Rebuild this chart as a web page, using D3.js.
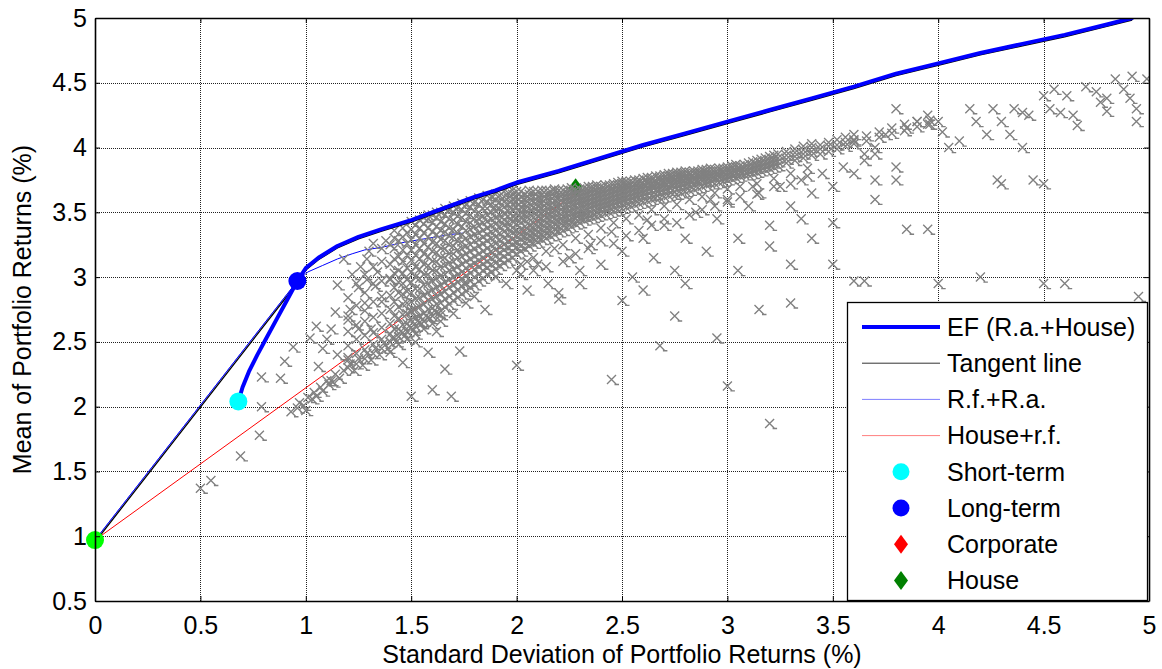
<!DOCTYPE html>
<html>
<head>
<meta charset="utf-8">
<script src="https://cdn.jsdelivr.net/npm/d3@7"></script>
<style>
  body { margin: 0; background: #fff; }
  text { font-family: "Liberation Sans", Arial, sans-serif; fill: #000; }
</style>
</head>
<body>
<svg id="chart" width="1162" height="669"></svg>
<script>
// ---- axis ticks ----
const xTicks = [0, 0.5, 1, 1.5, 2, 2.5, 3, 3.5, 4, 4.5, 5];
const yTicks = [0.5, 1, 1.5, 2, 2.5, 3, 3.5, 4, 4.5, 5];

// ---- efficient frontier (risky assets + house) ----
const efSigma = [0.68, 0.70, 0.73, 0.77, 0.81, 0.86, 0.91, 0.96, 1.00, 1.06, 1.15, 1.25, 1.36, 1.50, 1.60, 1.70, 1.80, 1.90, 2.00, 2.20, 2.40, 2.60, 2.80, 3.00, 3.20, 3.40, 3.60, 3.80, 4.00, 4.20, 4.40, 4.60, 4.80, 4.92];
const efMean  = [2.04, 2.15, 2.27, 2.40, 2.52, 2.67, 2.82, 2.97, 3.07, 3.15, 3.24, 3.31, 3.37, 3.44, 3.50, 3.56, 3.62, 3.67, 3.73, 3.82, 3.92, 4.02, 4.11, 4.20, 4.29, 4.38, 4.47, 4.57, 4.65, 4.73, 4.80, 4.87, 4.95, 5.00];

// ---- tangent line: risk-free rate to the tangency portfolio ----
const tangentSigma = [0.00, 0.96];
const tangentMean  = [0.97, 2.97];

// ---- risk-free + risky assets ----
const rfraSigma = [0.00, 0.96, 1.01, 1.08, 1.15, 1.22, 1.28, 1.36, 1.47, 1.58, 1.69, 1.75];
const rfraMean  = [0.97, 2.97, 3.04, 3.09, 3.14, 3.18, 3.21, 3.23, 3.27, 3.30, 3.33, 3.34];

// ---- house + risk-free ----
const houseRfSigma = [0.00, 2.28];
const houseRfMean  = [0.97, 3.65];

// ---- single assets ----
const riskFree  = [0.00, 0.97];
const shortTerm = [0.68, 2.04];
const longTerm  = [0.96, 2.97];
const corporate = [4.20, 2.30];
const house     = [2.28, 3.69];

// ---- simulated portfolios: dense columns "sigma:mean,mean,..." ----
const portfolioColumns = `
1.20:2.30,2.38,2.47,2.58,2.70,2.84
1.24:2.33,2.41,2.52,2.63,2.78,2.95
1.28:2.37,2.44,2.55,2.66,2.74,2.88,3.02
1.32:2.41,2.48,2.57,2.69,2.81,2.95,3.08
1.36:2.45,2.52,2.61,2.72,2.85,2.97,3.12,3.22
1.40:2.50,2.56,2.64,2.75,2.86,2.99,3.10,3.25
1.44:2.54,2.60,2.68,2.77,2.88,2.96,3.05,3.16,3.28
1.48:2.58,2.64,2.72,2.80,2.89,2.98,3.07,3.17,3.26,3.34
1.52:2.62,2.68,2.75,2.83,2.91,3.00,3.08,3.17,3.25,3.33,3.40
1.56:2.66,2.72,2.79,2.86,2.94,3.02,3.10,3.18,3.26,3.34,3.41,3.46
1.60:2.70,2.76,2.83,2.90,2.97,3.05,3.12,3.20,3.27,3.35,3.42,3.48
1.64:2.74,2.80,2.87,2.94,3.01,3.08,3.15,3.22,3.29,3.36,3.43,3.50
1.68:2.79,2.85,2.92,2.98,3.05,3.11,3.18,3.25,3.32,3.38,3.45,3.52
1.72:2.84,2.90,2.96,3.02,3.08,3.15,3.21,3.28,3.34,3.41,3.47,3.54
1.76:2.89,2.95,3.01,3.07,3.12,3.18,3.24,3.30,3.36,3.43,3.49,3.56
1.80:2.94,3.00,3.06,3.11,3.16,3.22,3.28,3.33,3.39,3.45,3.51,3.58
1.84:2.99,3.05,3.10,3.15,3.20,3.26,3.31,3.36,3.42,3.47,3.53,3.60
1.88:3.04,3.10,3.15,3.20,3.25,3.30,3.35,3.40,3.45,3.50,3.56,3.62
1.92:3.09,3.14,3.19,3.24,3.29,3.34,3.39,3.44,3.48,3.53,3.58,3.63
1.96:3.13,3.18,3.23,3.28,3.33,3.38,3.42,3.47,3.51,3.56,3.61,3.65
2.00:3.18,3.23,3.27,3.32,3.36,3.41,3.45,3.49,3.54,3.58,3.62,3.66
2.04:3.22,3.27,3.31,3.35,3.39,3.44,3.48,3.52,3.56,3.60,3.64
2.08:3.26,3.30,3.34,3.38,3.42,3.46,3.50,3.54,3.58,3.62,3.66
2.12:3.29,3.33,3.37,3.41,3.45,3.49,3.53,3.57,3.60,3.64,3.67
2.16:3.32,3.36,3.40,3.44,3.48,3.51,3.55,3.59,3.62,3.66
2.20:3.35,3.39,3.43,3.46,3.50,3.54,3.57,3.61,3.64,3.67
2.24:3.38,3.42,3.45,3.49,3.52,3.56,3.59,3.62,3.65,3.68
2.28:3.41,3.45,3.48,3.51,3.55,3.58,3.61,3.64,3.67
2.32:3.44,3.47,3.50,3.54,3.57,3.60,3.63,3.66,3.69
2.36:3.46,3.49,3.53,3.56,3.59,3.62,3.65,3.68,3.70
2.40:3.48,3.52,3.55,3.58,3.61,3.64,3.67,3.70
2.44:3.50,3.54,3.57,3.60,3.63,3.66,3.69,3.71
2.48:3.52,3.56,3.59,3.62,3.65,3.68,3.71,3.73
2.52:3.54,3.58,3.61,3.64,3.67,3.70,3.72,3.74
2.56:3.56,3.60,3.63,3.66,3.69,3.72,3.75
2.60:3.58,3.62,3.65,3.68,3.71,3.73,3.76
2.64:3.60,3.63,3.67,3.70,3.72,3.75,3.77
2.68:3.61,3.65,3.68,3.71,3.74,3.76,3.78
2.72:3.63,3.67,3.70,3.73,3.75,3.78,3.80
2.76:3.64,3.68,3.71,3.74,3.77,3.79,3.81
2.80:3.66,3.70,3.73,3.76,3.78,3.80,3.82
2.84:3.68,3.72,3.75,3.77,3.80,3.82
2.88:3.70,3.74,3.76,3.79,3.81,3.83
2.92:3.72,3.75,3.78,3.80,3.82,3.84
2.96:3.73,3.77,3.79,3.82,3.84
3.00:3.75,3.78,3.81,3.83,3.85
3.04:3.77,3.80,3.82,3.85,3.87
3.08:3.79,3.82,3.84,3.87
3.12:3.80,3.83,3.86,3.89
3.16:3.82,3.85,3.88,3.91
3.20:3.84,3.87,3.90,3.93
3.24:3.86,3.89,3.92,3.95
3.28:3.88,3.91,3.94,3.97
3.32:3.90,3.93,3.96,3.99
3.36:3.92,3.95,3.98,4.01
3.40:3.94,3.97,4.00,4.03
3.44:3.95,3.99,4.02
3.48:3.97,4.01,4.04
3.52:3.99,4.02,4.06
3.56:4.01,4.04,4.08
3.60:4.03,4.06,4.10
3.66:4.05,4.09
3.72:4.08,4.12
3.78:4.11,4.15
3.84:4.13,4.18
3.90:4.16,4.20
3.96:4.18,4.21
1.42:2.53,2.60,2.70,2.81,2.92,3.03,3.14,3.22,3.30
1.46:2.57,2.63,2.71,2.79,2.87,2.95,3.03,3.12,3.21,3.31,3.38
1.50:2.61,2.67,2.74,2.81,2.88,2.96,3.04,3.13,3.21,3.29,3.37,3.43
1.54:2.65,2.70,2.77,2.84,2.91,2.99,3.06,3.14,3.22,3.30,3.38,3.44
1.58:2.69,2.75,2.82,2.88,2.95,3.02,3.09,3.16,3.23,3.31,3.38,3.45,3.48
1.62:2.73,2.79,2.85,2.92,2.99,3.05,3.12,3.19,3.26,3.33,3.39,3.46,3.50
1.66:2.77,2.83,2.89,2.96,3.02,3.09,3.15,3.22,3.28,3.35,3.41,3.48,3.53
1.70:2.82,2.88,2.94,3.00,3.06,3.12,3.18,3.24,3.31,3.37,3.44,3.50,3.55
1.74:2.87,2.93,2.99,3.04,3.10,3.16,3.22,3.27,3.33,3.39,3.46,3.52,3.57
1.78:2.92,2.97,3.03,3.09,3.14,3.20,3.25,3.31,3.37,3.42,3.48,3.54,3.59
1.82:2.97,3.02,3.08,3.13,3.18,3.24,3.29,3.34,3.40,3.45,3.50,3.56,3.61
1.86:3.02,3.07,3.12,3.17,3.22,3.28,3.33,3.38,3.43,3.48,3.53,3.58,3.63
1.90:3.06,3.11,3.16,3.21,3.26,3.31,3.36,3.41,3.46,3.51,3.55,3.60,3.64
1.94:3.11,3.16,3.21,3.25,3.30,3.35,3.40,3.44,3.49,3.54,3.58,3.62,3.66
1.98:3.15,3.20,3.25,3.29,3.34,3.38,3.43,3.47,3.52,3.56,3.60,3.64,3.67
2.02:3.20,3.24,3.29,3.33,3.37,3.42,3.46,3.50,3.54,3.58,3.62,3.66
2.06:3.24,3.28,3.32,3.36,3.40,3.45,3.49,3.53,3.57,3.61,3.64,3.67
2.10:3.27,3.31,3.35,3.39,3.43,3.47,3.51,3.55,3.59,3.62,3.66
2.14:3.30,3.34,3.38,3.42,3.46,3.50,3.54,3.57,3.61,3.64,3.67
2.18:3.33,3.37,3.41,3.45,3.49,3.52,3.56,3.59,3.63,3.66,3.68
2.22:3.36,3.40,3.44,3.47,3.51,3.54,3.58,3.61,3.64,3.67
2.26:3.39,3.43,3.46,3.50,3.53,3.57,3.60,3.63,3.66,3.69
2.30:3.42,3.46,3.49,3.52,3.56,3.59,3.62,3.65,3.68
2.34:3.45,3.48,3.52,3.55,3.58,3.61,3.64,3.67,3.70
2.38:3.47,3.50,3.54,3.57,3.60,3.63,3.66,3.69,3.71
2.42:3.49,3.53,3.56,3.59,3.62,3.65,3.68,3.71
2.46:3.51,3.55,3.58,3.61,3.64,3.67,3.70,3.72
2.50:3.53,3.57,3.60,3.63,3.66,3.69,3.72,3.74
2.54:3.55,3.59,3.62,3.65,3.68,3.71,3.74
2.58:3.57,3.61,3.64,3.67,3.70,3.73,3.75
2.62:3.59,3.63,3.66,3.69,3.72,3.74,3.77
2.66:3.61,3.64,3.67,3.70,3.73,3.75,3.78
2.70:3.62,3.66,3.69,3.72,3.74,3.77,3.79
2.74:3.64,3.67,3.71,3.73,3.76,3.78,3.80
2.78:3.65,3.69,3.72,3.75,3.77,3.79,3.81
2.82:3.67,3.71,3.74,3.76,3.79,3.81
2.86:3.69,3.73,3.75,3.78,3.80,3.82
2.90:3.71,3.74,3.77,3.79,3.81,3.83
2.94:3.72,3.76,3.78,3.81,3.83
2.98:3.74,3.77,3.80,3.82,3.84
3.02:3.76,3.79,3.81,3.84,3.86
3.06:3.78,3.81,3.83,3.86
3.10:3.79,3.82,3.85,3.88
3.14:3.81,3.84,3.87,3.90
3.18:3.83,3.86,3.89,3.92
3.22:3.85,3.88,3.91,3.94
`;

// ---- simulated portfolios: scattered ones "sigma,mean" ----
const portfolioScattered = `
0.50,1.37 0.55,1.43 0.69,1.62 0.78,1.78 0.79,2.00 0.79,2.23 0.88,2.22 0.90,2.35 0.94,2.46
0.93,1.96 0.96,1.99 0.99,2.01 1.00,1.97 1.03,2.06 1.05,2.08 1.08,2.12 1.11,2.17 1.13,2.19
1.16,2.22 1.06,2.31 1.02,2.53 1.12,2.20 1.14,2.73 1.21,2.75 1.15,2.94 1.25,2.92 1.29,2.98
1.33,2.93 1.36,2.81 1.28,2.80 1.20,2.67 1.12,2.60 1.25,2.60 1.31,2.60 1.15,2.40 1.20,2.36
1.29,3.14 1.18,3.14 1.40,2.98 1.50,2.08 1.58,2.42 1.60,2.13 1.66,2.29 1.69,2.08 1.73,2.43
1.46,2.34 1.64,2.71 1.50,2.73 1.08,2.45 1.10,2.52 1.05,2.62 1.40,2.42 1.44,2.48 1.48,2.52
1.52,2.56 1.56,2.60 1.60,2.64 1.64,2.66 1.70,2.72 1.76,2.80 1.52,2.50 1.62,2.58
1.22,3.02 1.26,3.08 1.30,3.20 1.34,3.04 1.38,3.28 1.42,3.36 1.32,3.26 1.23,2.28 1.27,2.32
1.31,2.36 1.35,2.40 1.39,2.45 1.43,2.50 1.47,2.55 1.51,2.59 1.55,2.64 1.59,2.68 1.63,2.72
0.97,2.03 1.01,2.07 1.04,2.11 1.07,2.15 1.10,2.20 1.14,2.25 1.18,2.28 1.21,2.33 1.25,2.37
1.29,2.41 1.33,2.45 1.37,2.49 1.41,2.53 1.45,2.58 1.49,2.62 1.53,2.66 1.57,2.70 1.61,2.74
1.75,2.95 1.80,2.85 1.85,2.75 1.95,2.95 2.00,3.05 2.05,2.90 2.10,3.10 2.15,2.95 2.20,2.88
2.25,3.15 2.30,3.05 2.35,3.25 2.40,3.10 2.45,3.35 2.50,3.20 2.55,3.00 2.60,3.30 2.65,3.15
2.70,3.40 2.75,3.05 2.80,3.30 2.85,3.50 2.90,3.20 2.95,3.45 3.00,3.60 3.05,3.30 3.10,3.55
3.15,3.65 3.20,3.40 3.25,3.70 3.30,3.55 3.35,3.75 3.40,3.65 3.45,3.80 3.50,3.70 3.55,3.85
3.60,3.80 3.65,3.90 3.70,3.95 1.90,3.00 2.05,3.12 2.18,3.22 2.62,3.44 2.92,3.60 3.12,3.70
2.02,3.02 2.02,3.10 2.08,3.05 2.08,3.15 2.14,3.08 2.14,3.20 2.22,3.12 2.22,3.25 2.28,3.18
2.28,3.30 2.34,3.22 2.34,3.33 2.40,3.28 2.40,3.38 2.46,3.26 2.46,3.42 2.52,3.32 2.52,3.45
2.58,3.36 2.58,3.48 2.64,3.40 2.64,3.52 2.70,3.45 2.70,3.55 2.76,3.42 2.76,3.56 2.82,3.48
2.82,3.60 2.88,3.52 2.88,3.62 2.94,3.55 2.94,3.65 3.00,3.58 3.00,3.68 3.06,3.62 3.06,3.70
3.14,3.64 3.14,3.72 3.22,3.70 3.22,3.76 3.30,3.72 3.30,3.80 3.38,3.78 3.38,3.84
2.00,2.32 2.20,2.83 2.45,2.21 2.50,2.82 2.68,2.47 2.80,2.95 2.95,2.53 3.00,2.16 3.20,1.87
3.15,2.75 3.20,3.24 3.30,2.80 3.50,3.10 3.50,3.42 3.60,2.97 3.65,2.97 3.80,3.75 3.85,3.37
3.95,3.37 4.00,2.95 4.20,3.00 4.45,3.75 4.50,3.72 4.50,2.95 4.60,2.95 4.95,2.85 3.30,3.10
2.30,2.95 2.60,2.90 2.75,2.70 3.05,3.05 3.40,3.30 3.70,3.60 3.35,3.45 3.80,3.85
3.60,4.05 3.65,3.95 3.70,4.00 3.75,4.10 3.80,4.30 3.85,4.15 3.90,4.20 3.95,4.18 4.00,4.20
4.02,4.12 4.05,4.00 4.15,4.30 4.18,4.20 4.23,4.10 4.26,4.30 4.30,4.20 4.34,4.10 4.36,4.30
4.40,4.27 4.43,4.25 4.50,4.40 4.55,4.45 4.61,4.40 4.53,4.30 4.58,4.27 4.64,4.25 4.66,4.17
4.70,4.47 4.75,4.43 4.80,4.38 4.77,4.35 4.80,4.28 4.84,4.53 4.88,4.45 4.91,4.38 4.94,4.30
4.92,4.55 4.94,4.20 4.99,4.53 4.10,4.05 4.30,3.72 4.28,3.75 3.95,4.25 3.70,3.75 4.40,4.00
`;

// parse the two portfolio tables into [sigma, mean] pairs
const portfolios = [];
portfolioColumns.trim().split("\n").forEach(row => {
  const [s, ms] = row.split(":");
  ms.split(",").forEach(m => portfolios.push([+s, +m]));
});
portfolioScattered.trim().split(/\s+/).forEach(p => {
  const [s, m] = p.split(",");
  portfolios.push([+s, +m]);
});

// ---- layout ----
const plot = { left: 95, right: 1149, top: 18, bottom: 601 };
const FS = 25;

const svg = d3.select("#chart");
const x = d3.scaleLinear().domain([0, 5]).range([plot.left, plot.right]);
const y = d3.scaleLinear().domain([0.5, 5]).range([plot.bottom, plot.top]);

svg.append("defs").append("clipPath").attr("id", "plotClip")
  .append("rect")
  .attr("x", plot.left).attr("y", plot.top)
  .attr("width", plot.right - plot.left).attr("height", plot.bottom - plot.top);

// dotted grid
const grid = svg.append("g").attr("stroke", "#222").attr("stroke-width", 1)
  .attr("stroke-dasharray", "1,1").attr("shape-rendering", "crispEdges");
grid.selectAll(".gx").data(xTicks.slice(1, -1)).join("line")
  .attr("x1", d => Math.round(x(d)) + 0.5).attr("x2", d => Math.round(x(d)) + 0.5)
  .attr("y1", plot.top).attr("y2", plot.bottom);
grid.selectAll(".gy").data(yTicks.slice(1, -1)).join("line")
  .attr("y1", d => Math.round(y(d)) + 0.5).attr("y2", d => Math.round(y(d)) + 0.5)
  .attr("x1", plot.left).attr("x2", plot.right);

const line = (xs, ys) => d3.line()(xs.map((v, i) => [x(v), y(ys[i])]));
const layer = svg.append("g").attr("clip-path", "url(#plotClip)");

// thin lines sit underneath the portfolio cloud
layer.append("path").attr("d", line(houseRfSigma, houseRfMean))
  .attr("fill", "none").attr("stroke", "#ff0000").attr("stroke-width", 1);
layer.append("path").attr("d", line(rfraSigma, rfraMean))
  .attr("fill", "none").attr("stroke", "#0000ff").attr("stroke-width", 1);

// corporate & house assets (covered by the cloud and the legend)
const diamond = "M0,-9.5L7,0L0,9.5L-7,0Z";
layer.append("path").attr("d", diamond)
  .attr("transform", `translate(${x(corporate[0])},${y(corporate[1])})`).attr("fill", "#ff0000");
layer.append("path").attr("d", diamond)
  .attr("transform", `translate(${x(house[0])},${y(house[1])})`).attr("fill", "#008000");

// simulated portfolios
const xMark = "M-4.5,-4.5L4.5,4.5M4.5,-4.5L-4.5,4.5M3,5H7.5";
layer.append("g").attr("stroke", "#808080").attr("stroke-width", 1.35).attr("fill", "none")
  .selectAll("path").data(portfolios).join("path")
  .attr("d", xMark)
  .attr("transform", d => `translate(${x(d[0]).toFixed(1)},${y(d[1]).toFixed(1)})`);

// tangent line: to tangency, then along the frontier
const tIdx = efSigma.indexOf(tangentSigma[1]);
const tanS = tangentSigma.concat(efSigma.slice(tIdx + 1));
const tanM = tangentMean.concat(efMean.slice(tIdx + 1));
layer.append("path").attr("d", line(tanS, tanM))
  .attr("transform", "translate(0,2)")
  .attr("fill", "none").attr("stroke", "#000").attr("stroke-width", 1.3);
// straight part of the risk-free + risky line over it
layer.append("path").attr("d", line(rfraSigma.slice(0, 2), rfraMean.slice(0, 2)))
  .attr("fill", "none").attr("stroke", "#0000ff").attr("stroke-width", 0.8).attr("opacity", 0.7);

// efficient frontier
layer.append("path").attr("d", line(efSigma, efMean))
  .attr("fill", "none").attr("stroke", "#0000ff").attr("stroke-width", 4)
  .attr("stroke-linejoin", "round").attr("stroke-linecap", "round");

// circle markers
const dots = [[riskFree, "#00ff00"], [shortTerm, "#00ffff"], [longTerm, "#0000ff"]];
svg.append("g").selectAll("circle").data(dots).join("circle")
  .attr("cx", d => x(d[0][0])).attr("cy", d => y(d[0][1])).attr("r", 9)
  .attr("fill", d => d[1]);

// axes (ticks pointing inward on all four sides)
const fmt = d => String(d);
const axB = svg.append("g").attr("transform", `translate(0,${plot.bottom})`)
  .call(d3.axisBottom(x).tickValues(xTicks).tickSize(-5).tickSizeOuter(0).tickPadding(15).tickFormat(fmt));
const axL = svg.append("g").attr("transform", `translate(${plot.left},0)`)
  .call(d3.axisLeft(y).tickValues(yTicks).tickSize(-5).tickSizeOuter(0).tickPadding(8).tickFormat(fmt));
const axT = svg.append("g").attr("transform", `translate(0,${plot.top})`)
  .call(d3.axisTop(x).tickValues(xTicks).tickSize(-5).tickSizeOuter(0).tickFormat(""));
const axR = svg.append("g").attr("transform", `translate(${plot.right},0)`)
  .call(d3.axisRight(y).tickValues(yTicks).tickSize(-5).tickSizeOuter(0).tickFormat(""));
[axB, axL, axT, axR].forEach(a => {
  a.select(".domain").attr("stroke", "#000").attr("stroke-width", 1.6);
  a.selectAll(".tick line").attr("stroke", "#000").attr("stroke-width", 1);
  a.selectAll("text").attr("font-size", FS).attr("font-family", "Liberation Sans, Arial, sans-serif").attr("fill", "#000");
});

// axis titles
svg.append("text").attr("x", (plot.left + plot.right) / 2).attr("y", 663)
  .attr("text-anchor", "middle").attr("font-size", FS)
  .text("Standard Deviation of Portfolio Returns (%)");
svg.append("text")
  .attr("transform", `translate(31,${(plot.top + plot.bottom) / 2}) rotate(-90)`)
  .attr("text-anchor", "middle").attr("font-size", FS)
  .text("Mean of Portfolio Returns (%)");

// legend
const leg = { left: 847, top: 302, right: 1148, bottom: 601 };
const lg = svg.append("g");
lg.append("rect").attr("x", leg.left + 0.5).attr("y", leg.top + 0.5)
  .attr("width", leg.right - leg.left - 1).attr("height", leg.bottom - leg.top - 1)
  .attr("fill", "#fff").attr("stroke", "#000").attr("stroke-width", 1.3);
const legendItems = [
  { label: "EF (R.a.+House)", kind: "line", color: "#0000ff", w: 4 },
  { label: "Tangent line", kind: "line", color: "#333", w: 1 },
  { label: "R.f.+R.a.", kind: "line", color: "#7f7fff", w: 1 },
  { label: "House+r.f.", kind: "line", color: "#ff7f7f", w: 1 },
  { label: "Short-term", kind: "circle", color: "#00ffff" },
  { label: "Long-term", kind: "circle", color: "#0000ff" },
  { label: "Corporate", kind: "diamond", color: "#ff0000" },
  { label: "House", kind: "diamond", color: "#008000" }
];
legendItems.forEach((it, i) => {
  const cy = leg.top + 25 + i * 36.2;
  if (it.kind === "line") {
    lg.append("line").attr("x1", 862).attr("x2", 940).attr("y1", cy).attr("y2", cy)
      .attr("stroke", it.color).attr("stroke-width", it.w);
  } else if (it.kind === "circle") {
    lg.append("circle").attr("cx", 901).attr("cy", cy).attr("r", 8.5).attr("fill", it.color);
  } else {
    lg.append("path").attr("d", diamond).attr("transform", `translate(901,${cy})`).attr("fill", it.color);
  }
  lg.append("text").attr("x", 947).attr("y", cy).attr("dy", "0.35em")
    .attr("font-size", FS).text(it.label);
});
</script>
</body>
</html>
